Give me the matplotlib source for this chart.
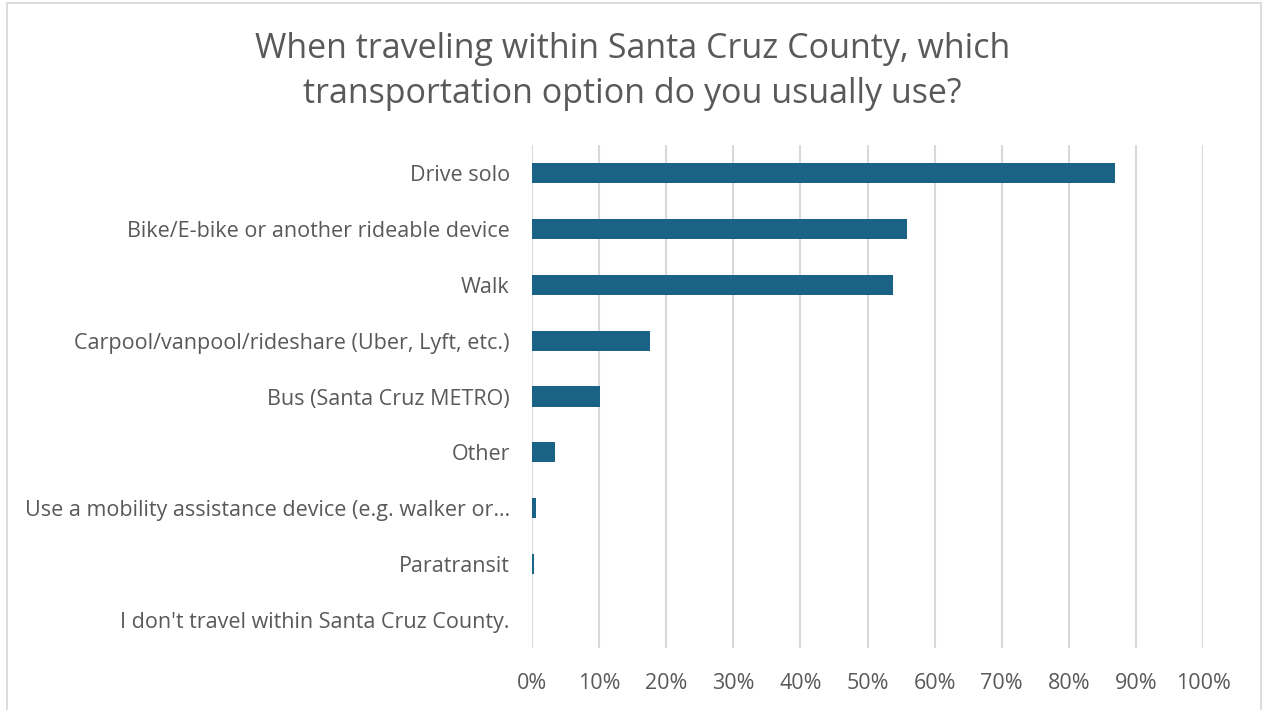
import matplotlib
matplotlib.use("Agg")
import matplotlib.pyplot as plt
from matplotlib.patches import Rectangle
from matplotlib.ticker import FuncFormatter, MultipleLocator

categories = [
    "Drive solo",
    "Bike/E-bike or another rideable device",
    "Walk",
    "Carpool/vanpool/rideshare (Uber, Lyft, etc.)",
    "Bus (Santa Cruz METRO)",
    "Other",
    "Use a mobility assistance device (e.g. walker or\u2026",
    "Paratransit",
    "I don't travel within Santa Cruz County.",
]
values = [0.869, 0.559, 0.538, 0.176, 0.101, 0.034, 0.006, 0.003, 0.0]
title = "When traveling within Santa Cruz County, which\ntransportation option do you usually use?"

plt.rcParams['font.family'] = ['Open Sans', 'DejaVu Sans']
W, H = 1262, 710
fig = plt.figure(figsize=(W / 100, H / 100), dpi=100)
fig.patch.set_facecolor("white")
fig.patches.append(Rectangle((6.5 / W, -0.05), (1261 - 6.5) / W, 1.05 - 2.5 / H, transform=fig.transFigure,
                             fill=False, edgecolor="#d9d9d9", linewidth=1.3))

ax = fig.add_axes([532 / W, 1 - 648 / H, (1203 - 532) / W, (648 - 145) / H])
y = list(range(len(categories)))
ax.barh(y, values, height=0.36, color="#1b6386", zorder=3)
ax.set_ylim(len(categories) - 0.5, -0.5)
ax.set_xlim(0, 1.0)
ax.xaxis.set_major_locator(MultipleLocator(0.1))
ax.xaxis.set_major_formatter(FuncFormatter(lambda v, p: f"{v*100:.0f}%"))
ax.grid(axis="x", color="#d9d9d9", linewidth=1.5, zorder=0)
ax.set_yticks(y)
ax.set_yticklabels(categories)
for s in ax.spines.values():
    s.set_visible(False)
ax.tick_params(axis="both", length=0, labelsize=15.5, colors="#595959")
ax.tick_params(axis="y", pad=16)
ax.tick_params(axis="x", pad=18)

fig.text(632.5 / W, 1 - 71.5 / H, title, ha="center", va="center", fontsize=24.5,
         color="#595959", linespacing=1.45)

fig.savefig("out.png", dpi=100)
